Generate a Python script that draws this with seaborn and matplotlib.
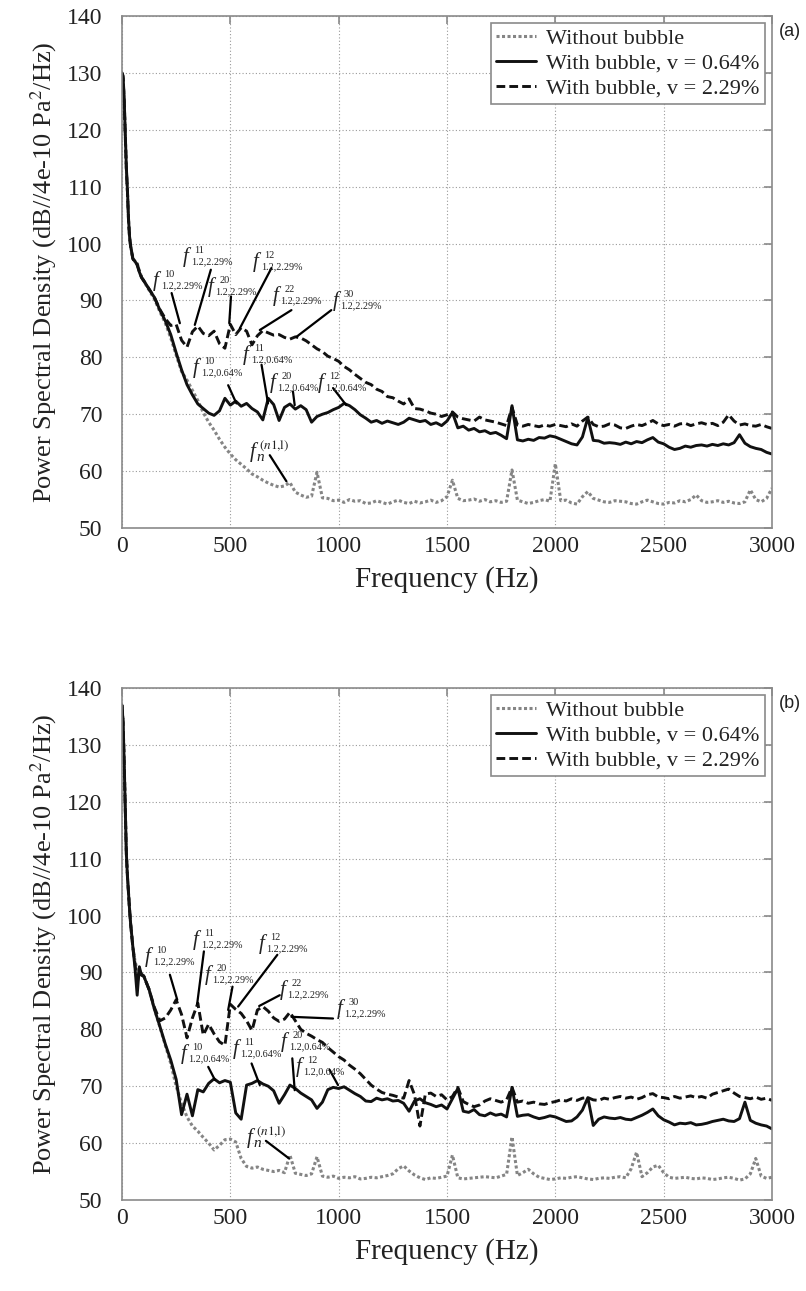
import matplotlib
matplotlib.use('Agg')
import matplotlib.pyplot as plt
import seaborn as sns

# ---------------- data ----------------
FREQ_LOW = [0, 5, 10, 15, 20, 25, 30, 35, 40, 50, 60, 70, 80, 90]
FREQ_GRID = list(range(100, 3001, 25))
freq = FREQ_LOW + FREQ_GRID

# Panel (a)
a_without = [130, 129, 125, 119, 113, 109, 104, 101, 99.5, 97.5, 96.8, 96.5, 95.2, 94.2,
             93.4, 91.8, 90.2, 88.0, 86.0, 83.4, 80.4, 77.5,
             76.0, 74.2, 72.4, 70.3, 68.6, 67.2, 65.6, 64.2,
             63.0, 62.0, 61.2, 60.4, 59.5, 59.0, 58.4, 57.9,
             57.5, 57.2, 57.4, 58.0, 56.3, 55.8, 55.4, 55.6,
             59.8, 55.3, 55.2, 54.8, 54.9, 54.5, 55.0, 54.7,
             54.8, 54.3, 54.4, 54.8, 54.5, 54.2, 54.6, 54.9,
             54.5, 54.3, 54.7, 54.4, 54.6, 54.9, 54.5, 54.8,
             55.5, 58.4, 55.2, 54.8, 54.9, 55.1, 54.7, 55.0,
             54.6, 54.8, 54.5, 54.7, 60.2, 54.9, 54.6, 54.3,
             54.5, 54.8, 55.0, 54.7, 61.3, 54.8, 54.9, 54.4,
             54.2, 55.5, 56.4, 55.2, 54.9, 54.6, 54.5, 54.8,
             54.7, 54.6, 54.3, 54.2, 54.6, 54.9, 54.6, 54.3,
             54.2, 54.5, 54.4, 54.8, 54.6, 55.0, 55.8, 54.8,
             54.5, 54.6, 54.8, 54.5, 54.7, 54.4, 54.3, 54.6,
             56.7, 55.0, 54.6, 55.2, 57.0]

a_v064 = [130, 129.5, 125.5, 119.5, 113.5, 109.5, 104.5, 101.2, 99.6, 97.3, 96.9, 96.2, 95.0, 94.0,
          93.5, 92.0, 90.5, 88.3, 86.4, 84.0, 80.8, 77.8,
          75.2, 73.4, 71.8, 71.0, 70.2, 69.8, 70.6, 72.8,
          71.6, 72.3, 71.4, 71.9, 71.0, 70.4, 69.0, 72.8,
          71.7, 68.9, 71.2, 71.8, 70.9, 71.5, 70.8, 68.6,
          69.6, 70.0, 70.3, 70.8, 71.2, 71.9, 71.5, 70.8,
          69.9, 69.3, 68.6, 68.9, 68.4, 68.8, 68.5, 68.2,
          68.6, 69.3, 69.0, 68.7, 68.9, 68.2, 68.5, 68.0,
          68.8, 70.3, 67.6, 67.9, 67.2, 67.5, 66.9, 67.1,
          66.6, 66.8, 66.3, 65.7, 71.5, 65.5, 65.3, 65.6,
          65.4, 65.9, 65.8, 66.2, 66.0, 65.6, 65.2, 64.8,
          64.6, 66.0, 69.4, 65.4, 65.3, 64.9, 65.0, 64.9,
          64.7, 65.1, 64.8, 65.2, 65.0, 65.5, 65.9, 65.1,
          64.8, 64.2, 63.8, 64.0, 64.4, 64.2, 64.5, 64.6,
          64.4, 64.7, 64.5, 64.8, 64.6, 65.0, 66.4, 64.9,
          64.3, 64.0, 63.8, 63.3, 63.0]

a_v229 = [130, 129.2, 125.2, 119.2, 113.2, 109.2, 104.2, 101.0, 99.4, 97.4, 96.7, 96.4, 95.1, 94.1,
          93.5, 92.0, 90.5, 88.4, 86.8, 85.6, 85.8, 83.0,
          81.8, 84.5, 85.5, 84.2, 83.8, 84.6, 82.4, 81.6,
          85.8, 84.0, 85.2, 84.6, 82.2, 83.8, 84.7, 84.3,
          83.9, 84.0, 83.5, 83.2, 83.6, 83.4, 82.9, 82.2,
          81.5, 81.0, 80.2, 79.8, 79.3, 78.4, 77.8, 77.0,
          76.3, 75.6, 75.2, 74.4, 74.0, 73.1, 72.9, 72.3,
          71.8, 72.7, 71.0, 70.9, 70.6, 70.2, 70.0, 69.6,
          69.9, 70.4, 69.5, 69.2, 69.0, 68.8, 69.5, 69.0,
          68.8, 68.6, 68.3, 68.0, 71.2, 68.1, 67.9, 68.2,
          68.0, 67.8, 68.1, 67.9, 68.2, 68.0, 67.8, 68.3,
          67.9, 68.8, 69.5, 68.2, 67.8, 67.9, 68.3, 68.1,
          67.6, 67.5, 67.9, 68.2, 68.0, 68.4, 68.9, 68.3,
          68.0, 68.2, 67.9, 68.3, 68.4, 68.0, 68.3, 68.5,
          68.2, 68.4, 68.0, 68.6, 69.9, 68.8, 68.1, 68.3,
          68.0, 67.9, 68.2, 67.8, 67.5]

# Panel (b)
b_without = [137, 134, 127, 119, 111, 107, 104, 101, 98.5, 94.5, 92.0, 90.5, 90.2, 89.8,
             89.4, 87.0, 83.5, 80.4, 77.2, 74.0, 70.0, 67.0,
             64.6, 63.0, 62.1, 61.0, 60.0, 58.8, 59.6, 60.6,
             60.7, 60.2, 57.3, 55.9, 55.6, 55.8, 55.4, 55.2,
             55.0, 55.2, 54.8, 57.9, 54.7, 54.5, 54.3, 54.6,
             57.6, 54.2, 54.0, 54.2, 53.8, 54.0, 53.9, 54.1,
             53.7, 53.8, 54.0, 53.9, 54.1, 54.3, 54.6, 55.5,
             56.0, 55.1, 54.4, 53.9, 53.6, 53.9, 53.8, 54.0,
             54.2, 57.9, 53.9, 53.7, 53.8, 53.9, 54.0, 54.1,
             54.0, 53.9, 54.2, 54.5, 61.1, 54.3, 54.8, 55.4,
             54.6, 54.0, 53.8, 53.6, 53.7, 53.9, 53.8, 54.0,
             54.1, 53.9, 53.7, 53.6, 53.8, 53.9, 53.8, 54.0,
             54.1, 53.9, 55.5, 58.4, 54.1, 54.8, 55.8, 56.1,
             54.8, 54.0, 53.8, 53.9, 54.0, 53.8, 53.7, 53.9,
             53.8, 53.6, 53.7, 53.9, 54.0, 53.8, 53.5, 53.7,
             54.6, 57.3, 54.2, 53.8, 54.0]

b_v064 = [137, 134, 127, 119, 111, 107, 104, 101, 98.5, 94.5, 90.8, 86.0, 91.0, 89.5,
          89.4, 87.0, 83.5, 80.5, 77.4, 74.6, 71.2, 65.0,
          68.6, 64.8, 69.4, 69.0, 70.5, 71.3, 70.6, 71.0,
          70.7, 65.3, 64.2, 70.2, 70.5, 71.0, 70.4, 70.0,
          69.2, 67.0, 68.5, 70.2, 69.6, 68.8, 68.2, 67.6,
          66.1, 67.2, 69.4, 69.8, 69.6, 69.9, 69.3, 68.7,
          68.2, 67.4, 67.3, 67.9, 67.6, 67.8, 67.4, 67.5,
          67.0, 65.6, 67.4, 67.8, 67.1, 66.8, 66.4, 66.7,
          66.0, 67.8, 69.6, 65.6, 65.4, 65.9, 65.0, 64.8,
          65.3, 64.9, 65.1, 64.6, 69.8, 64.7, 64.9, 65.0,
          64.6, 64.3, 64.5, 64.8, 64.6, 64.2, 63.8, 63.9,
          64.6, 65.8, 68.0, 63.1, 64.2, 64.6, 64.4, 64.3,
          64.5, 64.2, 64.1, 64.5, 64.9, 65.4, 66.0, 64.8,
          64.1, 63.7, 63.2, 63.5, 63.4, 63.6, 63.2, 63.3,
          63.5, 63.8, 64.0, 64.2, 63.9, 63.8, 64.3, 67.2,
          64.0, 63.5, 63.2, 63.0, 62.5]

b_v229 = [137, 134, 127, 119, 111, 107, 104, 101, 98.5, 94.5, 91.5, 88.0, 90.5, 89.6,
          89.4, 87.0, 83.8, 81.5, 82.0, 83.4, 85.2, 82.6,
          78.5, 82.0, 84.6, 79.0, 80.9, 79.2, 77.8, 77.2,
          84.4, 83.5, 82.8, 81.5, 79.8, 83.4, 84.0, 83.2,
          82.0, 81.4, 81.8, 83.0, 81.5, 80.0, 79.3, 78.8,
          78.2, 77.7, 76.8, 76.0, 75.2, 74.6, 73.7, 73.0,
          72.2, 71.2, 70.2, 69.5, 68.9, 68.6, 68.4, 68.1,
          67.9, 71.0, 68.5, 63.0, 68.6, 68.8, 68.2, 68.5,
          67.6, 68.2, 69.8, 67.3, 66.8, 66.4, 66.7, 67.4,
          67.8, 67.5, 67.2, 67.6, 69.8, 67.2, 67.4, 67.0,
          67.2, 66.9, 66.8, 67.1, 67.3, 67.6, 67.4, 67.8,
          67.5, 67.9, 68.0, 67.6, 67.5, 67.9, 67.7, 68.0,
          68.2, 67.9, 68.1, 67.7, 68.0, 68.5, 68.7, 68.1,
          68.0, 67.8, 68.2, 67.9, 68.1, 68.3, 68.0, 68.2,
          67.9, 68.6, 68.9, 69.2, 69.5, 68.8, 68.2, 68.0,
          67.8, 68.1, 67.7, 67.9, 67.5]

SERIES_LABELS = ['Without bubble', 'With bubble, v = 0.64%', 'With bubble, v = 2.29%']
X_TICKS = [0, 500, 1000, 1500, 2000, 2500, 3000]
Y_TICKS = [50, 60, 70, 80, 90, 100, 110, 120, 130, 140]

for s in (a_without, a_v064, a_v229, b_without, b_v064, b_v229):
    assert len(s) == len(freq), len(s)

# annotation labels: (superscript, subscript, f_x, f_y, line_x0, line_y0, line_x1, line_y1)
S229 = '1.2,2.29%'
S064 = '1.2,0.64%'
ANN_A = [
    ('10', S229, 143, 93.4, 229, 91.3, 267, 86.0),
    ('11', S229, 281, 97.6, 410, 95.4, 336, 85.7),
    ('20', S229, 396, 92.4, 503, 90.7, 495, 86.0),
    ('12', S229, 604, 96.8, 690, 95.7, 544, 85.1),
    ('22', S229, 696, 90.8, 782, 88.3, 636, 84.8),
    ('30', S229, 972, 89.9, 966, 88.3, 805, 83.6),
    ('10', S064, 327, 78.1, 490, 75.1, 528, 71.9),
    ('11', S064, 558, 80.4, 644, 78.7, 674, 71.9),
    ('20', S064, 682, 75.5, 789, 74.0, 797, 71.6),
    ('12', S064, 903, 75.5, 974, 74.6, 1035, 71.6),
    ('(n1,l)', 'n', 590, 63.3, 682, 62.8, 759, 58.2),
]
ANN_B = [
    ('10', S229, 106, 92.7, 221, 89.6, 255, 85.2),
    ('11', S229, 327, 95.7, 378, 93.7, 347, 84.5),
    ('20', S229, 382, 89.6, 510, 87.5, 490, 83.4),
    ('12', S229, 631, 95.0, 717, 93.1, 536, 84.0),
    ('22', S229, 728, 86.9, 728, 86.0, 633, 84.1),
    ('30', S229, 991, 83.6, 974, 81.9, 782, 82.2),
    ('10', S064, 270, 75.7, 398, 73.4, 429, 71.1),
    ('11', S064, 510, 76.6, 598, 74.0, 636, 70.2),
    ('20', S064, 735, 77.8, 786, 74.9, 797, 69.3),
    ('12', S064, 800, 73.4, 958, 72.9, 997, 70.2),
    ('(n1,l)', 'n', 576, 60.9, 664, 60.4, 771, 57.3),
]

# ---------------- style ----------------
sns.set_theme(style='white')
plt.rcParams['font.family'] = ['Liberation Serif', 'DejaVu Serif']
plt.rcParams['mathtext.fontset'] = 'stix'

W, H = 806, 1291
fig = plt.figure(figsize=(W / 100, H / 100), dpi=100)
fig.patch.set_facecolor('white')

ax_a = fig.add_axes([122 / W, 1 - 528 / H, 650 / W, 512 / H])
ax_b = fig.add_axes([122 / W, 1 - 1200 / H, 650 / W, 512 / H])

styles = [
    dict(color='#858585', linestyle=(0, (1, 0.8)), linewidth=2.2),
    dict(color='#111111', linestyle='-', linewidth=2.1),
    dict(color='#111111', linestyle=(0, (3, 1.4)), linewidth=2.1),
]
TXT = '#222222'


def f_label(ax, sup, sub, fx, fy):
    """Italic f with small superscript and subscript."""
    ax.text(fx, fy, 'f', fontsize=15, style='italic', ha='left', va='center', color=TXT)
    if sup == '(n1,l)':
        ax.annotate(r'$(n\mathrm{1{,}l})$', xy=(fx, fy), xytext=(6.5, 4.5),
                    textcoords='offset points', fontsize=9.5, ha='left', va='center', color=TXT)
        ax.annotate(sub, xy=(fx, fy), xytext=(5.0, -4.0), textcoords='offset points',
                    fontsize=11, style='italic', ha='left', va='center', color=TXT)
    else:
        ax.annotate(sup, xy=(fx, fy), xytext=(8.2, 4.6), textcoords='offset points',
                    fontsize=7.5, ha='left', va='center', color=TXT)
        ax.annotate(sub, xy=(fx, fy), xytext=(5.6, -3.4), textcoords='offset points',
                    fontsize=7.3, ha='left', va='center', color=TXT)


def draw(ax, series, anns, tag, tag_y):
    for vals, lab, st in zip(series, SERIES_LABELS, styles):
        sns.lineplot(x=freq, y=vals, ax=ax, label=lab, estimator=None, sort=False, **st)
    ax.set_xlim(0, 3000)
    ax.set_ylim(50, 140)
    ax.set_xticks(X_TICKS)
    ax.set_yticks(Y_TICKS)
    ax.set_axisbelow(True)
    ax.grid(True, linestyle=(0, (1, 2)), color='#9a9a9a', linewidth=0.8)
    for sp in ax.spines.values():
        sp.set_color('#8a8a8a')
        sp.set_linewidth(1.2)
    ax.tick_params(axis='both', direction='in', length=6, width=1.2, color='#8a8a8a',
                   top=True, right=True, labelsize=17, labelcolor=TXT)
    ax.tick_params(axis='y', pad=14)
    ax.tick_params(axis='x', pad=6)
    ax.set_xlabel('Frequency (Hz)', fontsize=21, color=TXT, labelpad=6)
    ax.set_ylabel('Power Spectral Density (dB//4e-10 Pa$^2$/Hz)', fontsize=19,
                  color=TXT, labelpad=6)
    leg = ax.legend(loc='upper right', frameon=True, fancybox=False, edgecolor='#8a8a8a',
                    framealpha=1, fontsize=16, handlelength=1.8, borderaxespad=0.3,
                    labelspacing=0.2, borderpad=0.25, handletextpad=0.45)
    leg.get_frame().set_linewidth(1.2)
    for t in leg.get_texts():
        t.set_color(TXT)
    for sup, sub, fx, fy, x0, y0, x1, y1 in anns:
        ax.plot([x0, x1], [y0, y1], color='black', linewidth=1.6)
        f_label(ax, sup, sub, fx, fy)
    fig.text(779 / W, tag_y, tag, fontsize=13, family='Liberation Sans',
             ha='left', va='center', color=TXT)


draw(ax_a, [a_without, a_v064, a_v229], ANN_A, '(a)', 1 - 32 / H)
draw(ax_b, [b_without, b_v064, b_v229], ANN_B, '(b)', 1 - 704 / H)

fig.savefig('out.png', dpi=100)
